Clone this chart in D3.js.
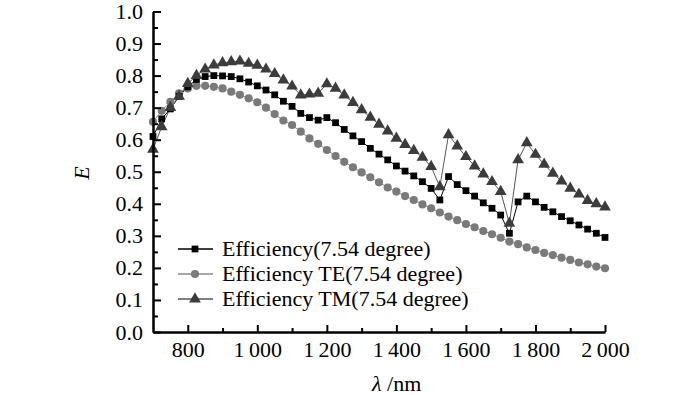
<!DOCTYPE html>
<html><head><meta charset="utf-8">
<script src="https://cdn.jsdelivr.net/npm/d3@7"></script>
<style>body{margin:0;background:#fff}svg{display:block}text{font-family:"Liberation Serif","Times New Roman",serif}</style>
</head><body><svg id="c" width="700" height="395"></svg>
<script>
const wavelengths = [700,725,750,775,800,825,850,875,900,925,950,975,1000,1025,1050,1075,1100,1125,1150,1175,1200,1225,1250,1275,1300,1325,1350,1375,1400,1425,1450,1475,1500,1525,1550,1575,1600,1625,1650,1675,1700,1725,1750,1775,1800,1825,1850,1875,1900,1925,1950,1975,2000];
const efficiency = [0.61,0.665,0.696,0.735,0.765,0.788,0.797,0.80,0.799,0.797,0.79,0.78,0.768,0.755,0.74,0.72,0.704,0.682,0.669,0.661,0.669,0.653,0.632,0.612,0.594,0.573,0.555,0.537,0.518,0.502,0.487,0.469,0.448,0.412,0.485,0.46,0.441,0.424,0.403,0.386,0.365,0.308,0.406,0.424,0.406,0.389,0.375,0.36,0.347,0.334,0.321,0.308,0.295];
const efficiencyTE = [0.656,0.69,0.718,0.745,0.76,0.768,0.768,0.765,0.76,0.75,0.74,0.729,0.717,0.70,0.68,0.66,0.646,0.625,0.604,0.587,0.568,0.549,0.531,0.514,0.498,0.483,0.467,0.451,0.438,0.424,0.412,0.398,0.386,0.373,0.36,0.349,0.337,0.327,0.315,0.305,0.294,0.282,0.274,0.264,0.256,0.247,0.24,0.232,0.225,0.217,0.211,0.204,0.199];
const efficiencyTM = [0.57,0.64,0.70,0.735,0.775,0.80,0.82,0.833,0.84,0.843,0.845,0.838,0.832,0.82,0.806,0.786,0.767,0.739,0.742,0.745,0.774,0.76,0.739,0.716,0.693,0.67,0.648,0.627,0.604,0.585,0.566,0.545,0.516,0.453,0.615,0.58,0.547,0.518,0.493,0.469,0.438,0.339,0.537,0.59,0.554,0.523,0.495,0.471,0.448,0.43,0.41,0.40,0.39];
const seriesNames = ["Efficiency(7.54 degree)","Efficiency TE(7.54 degree)","Efficiency TM(7.54 degree)"];
const xTicks = [800,1000,1200,1400,1600,1800,2000];
const yTicks = [0,0.1,0.2,0.3,0.4,0.5,0.6,0.7,0.8,0.9,1.0];

const svg = d3.select("#c");
const x = d3.scaleLinear().domain([700,2000]).range([153,605]);
const y = d3.scaleLinear().domain([0,1]).range([332,11.5]);
const fmtX = v => v >= 1000 ? Math.floor(v/1000) + "\u2009" + String(v%1000).padStart(3,"0") : String(v);

const series = [
  {name: seriesNames[0], vals: efficiency, sym: d3.symbolSquare, size: 46, fill:"#000", line:"#000"},
  {name: seriesNames[1], vals: efficiencyTE, sym: d3.symbolCircle, size: 52, fill:"#7a7a7a", line:"#8a8a8a"},
  {name: seriesNames[2], vals: efficiencyTM, sym: d3.symbolTriangle, size: 60, fill:"#3c3c3c", line:"#555"}
];

const lineGen = d3.line().x((d,i)=>x(wavelengths[i])).y(d=>y(d));
series.forEach(s=>{
  svg.append("path").attr("d", lineGen(s.vals)).attr("fill","none").attr("stroke", s.line).attr("stroke-width",1);
});
[1,0,2].forEach(k=>{
  const s = series[k];
  svg.append("g").selectAll("path").data(s.vals).join("path")
    .attr("transform",(d,i)=>`translate(${x(wavelengths[i])},${y(d)})`)
    .attr("d", d3.symbol().type(s.sym).size(s.size)).attr("fill", s.fill);
});

const ax = svg.append("g").attr("transform","translate(0,332)");
ax.call(d3.axisBottom(x).tickValues(xTicks).tickSizeInner(-7).tickSizeOuter(0).tickFormat(fmtX).tickPadding(9));
ax.append("g").call(d3.axisBottom(x).tickValues([900,1100,1300,1500,1700,1900]).tickSizeInner(-4).tickSizeOuter(0).tickFormat(""));
const ay = svg.append("g").attr("transform","translate(153,0)");
ay.call(d3.axisLeft(y).tickValues(yTicks).tickSizeInner(-8).tickSizeOuter(0).tickFormat(d3.format(".1f")).tickPadding(10));
ay.append("g").call(d3.axisLeft(y).tickValues(d3.range(0.05,1,0.1)).tickSizeInner(-5).tickSizeOuter(0).tickFormat(""));
svg.selectAll(".domain").attr("stroke","#000").attr("stroke-width",2);
svg.selectAll(".tick line").attr("stroke","#000").attr("stroke-width",2);
svg.selectAll(".tick text").attr("font-size",22).attr("fill","#000").attr("font-family","Liberation Serif");

const xt = svg.append("text").attr("x",372).attr("y",391).attr("font-size",22).attr("fill","#000");
xt.append("tspan").attr("font-style","italic").text("λ");
xt.append("tspan").text(" /nm");
svg.append("text").attr("transform","translate(89,173) rotate(-90)").attr("text-anchor","middle")
  .attr("font-size",22).attr("font-style","italic").attr("fill","#000").text("E");

const lg = svg.append("g");
series.forEach((s,i)=>{
  const yy = 249 + i*25;
  lg.append("line").attr("x1",178).attr("x2",213).attr("y1",yy).attr("y2",yy).attr("stroke",s.line).attr("stroke-width",1.5);
  lg.append("path").attr("transform",`translate(195,${yy})`).attr("d",d3.symbol().type(s.sym).size(s.size)).attr("fill",s.fill);
  lg.append("text").attr("x",222).attr("y",yy+7).attr("font-size",22).attr("fill","#000").text(s.name);
});
</script></body></html>
